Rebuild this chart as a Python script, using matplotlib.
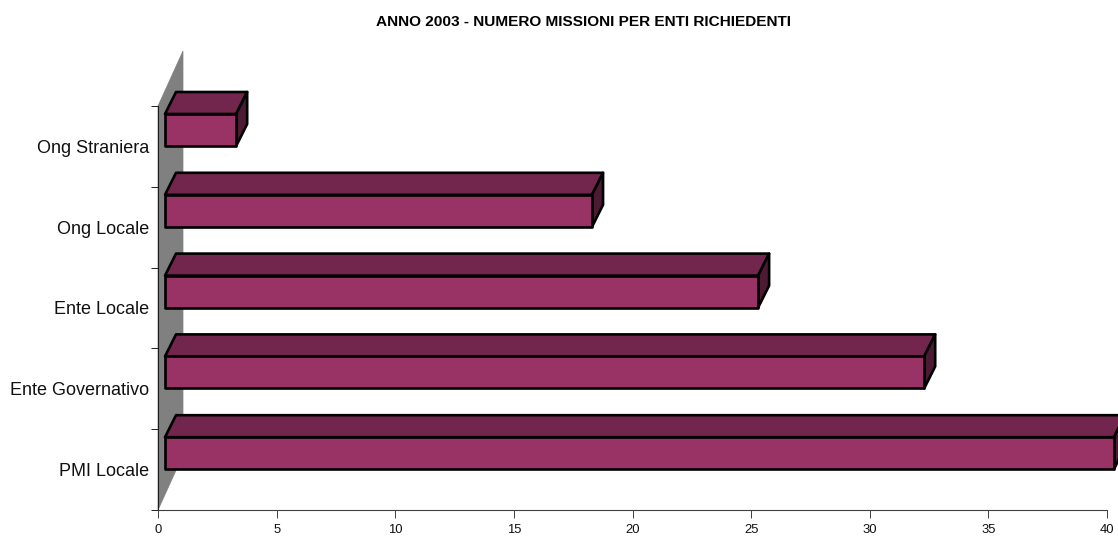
import matplotlib
matplotlib.use("Agg")
import matplotlib.pyplot as plt
from matplotlib.patches import Polygon

categories = ["PMI Locale", "Ente Governativo", "Ente Locale", "Ong Locale", "Ong Straniera"]
values = [40, 32, 25, 18, 3]
x_ticks = [0, 5, 10, 15, 20, 25, 30, 35, 40]
title = "ANNO 2003 - NUMERO MISSIONI PER ENTI RICHIEDENTI"

W, H = 1118, 536
L, R, T, B = 158, 1107, 106, 510
plt.rcParams['font.family'] = ['Liberation Sans', 'DejaVu Sans']
fig = plt.figure(figsize=(W / 100, H / 100), dpi=100)
ax = fig.add_axes([L / W, 1 - B / H, (R - L) / W, (B - T) / H])
ax.set_xlim(0, 40)
ax.set_ylim(0, len(categories))

ux = (R - L) / 40          # px per x unit
uy = (B - T) / len(categories)  # px per band
px = lambda p: p / ux
py = lambda p: p / uy

FRONT, TOP, SIDE = "#993366", "#73264D", "#4D1A33"
n = len(categories)

# back wall
ax.add_patch(Polygon([(0, 0), (px(25), py(55)), (px(25), n + py(55)), (0, n)],
                     closed=True, facecolor="#808080", edgecolor="#808080",
                     linewidth=0.5, clip_on=False, zorder=1))

dx, dy = px(11), py(22)
x0 = px(7)
for i, v in enumerate(values):
    y1 = i + 1 - py(8)
    y0 = i + 1 - py(40)
    x1 = x0 + v
    kw = dict(closed=True, edgecolor="black", linewidth=1.9, joinstyle="round",
              clip_on=False, zorder=3)
    ax.add_patch(Polygon([(x0, y1), (x1, y1), (x1 + dx, y1 + dy), (x0 + dx, y1 + dy)],
                         facecolor=TOP, **kw))
    ax.add_patch(Polygon([(x1, y0), (x1 + dx, y0 + dy), (x1 + dx, y1 + dy), (x1, y1)],
                         facecolor=SIDE, **kw))
    ax.add_patch(Polygon([(x0, y0), (x1, y0), (x1, y1), (x0, y1)],
                         facecolor=FRONT, **kw))

for s in ("top", "right"):
    ax.spines[s].set_visible(False)
ax.spines["left"].set_color("#202020")
ax.spines["left"].set_linewidth(0.8)
ax.spines["bottom"].set_color("#404040")
ax.spines["bottom"].set_linewidth(0.8)
ax.set_zorder(2)
ax.patch.set_visible(False)

ax.set_xticks(x_ticks)
ax.set_xticklabels([str(t) for t in x_ticks], fontsize=9.4, color="#111111")
ax.tick_params(axis="x", length=5.5, width=0.7, color="#404040", pad=4.7)
ax.set_yticks(range(n + 1))
ax.set_yticklabels([])
ax.tick_params(axis="y", which="major", length=5, width=0.7, color="#202020")
ax.set_yticks([i + 0.5 for i in range(n)], minor=True)
ax.set_yticklabels(categories, minor=True, fontsize=13, color="#111111")
ax.tick_params(axis="y", which="minor", length=0, pad=6.5)

fig.text(584 / W, 1 - 22 / H, title, ha="center", va="center", fontsize=11.1,
         fontweight="bold", color="black")
fig.savefig("out.png", dpi=100)
